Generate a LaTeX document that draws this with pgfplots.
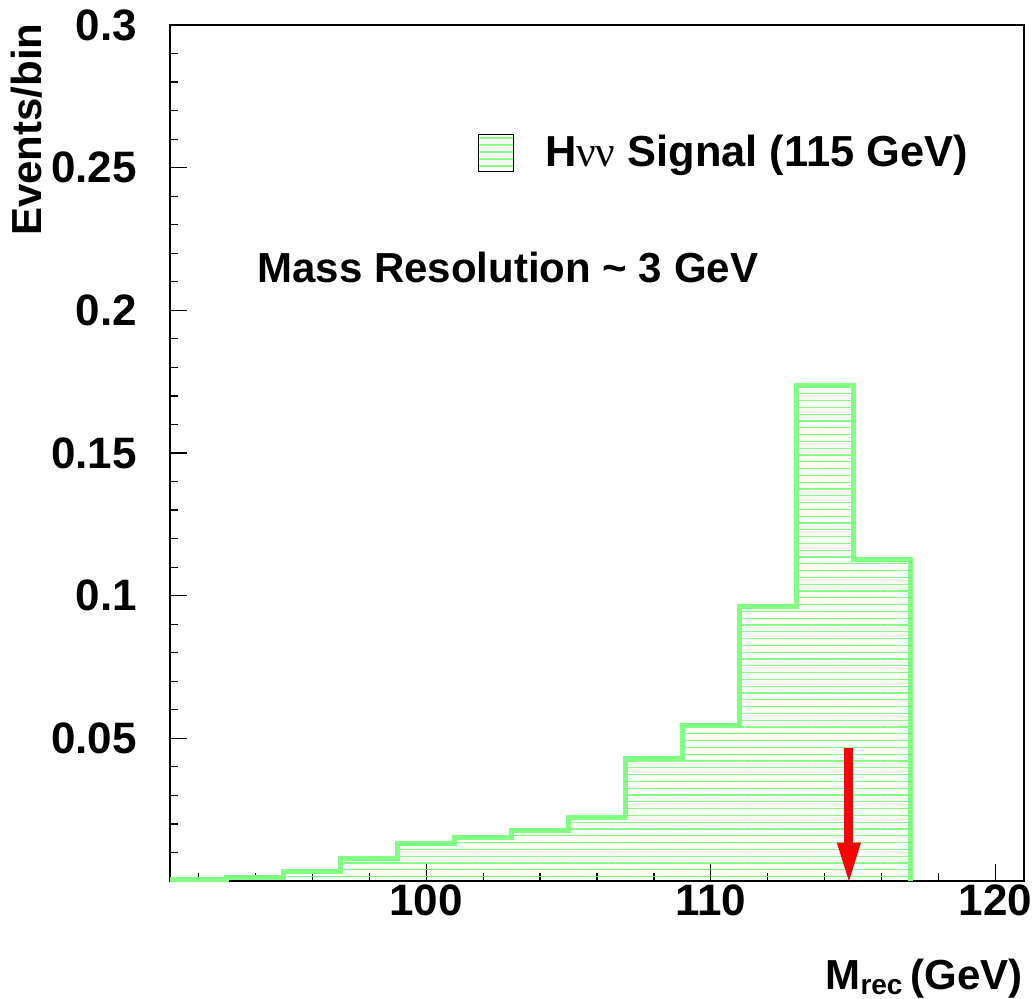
\documentclass[border=0pt]{standalone}
\usepackage{fontspec}
\setmainfont{Liberation Sans}
\newfontfamily\seriffont{Liberation Serif}
\usepackage{pgfplots}
\pgfplotsset{compat=1.18}
\usetikzlibrary{patterns.meta,arrows.meta}
\definecolor{hgreen}{RGB}{128,255,128}
\newcommand\bigfont{\fontsize{21}{25}\selectfont\bfseries}
\newcommand\tickfont{\fontsize{22}{26}\selectfont\bfseries}
\newcommand\legfont{\fontsize{21.7}{26}\selectfont\bfseries}
\begin{document}
\begin{tikzpicture}
\useasboundingbox (-85pt,-59pt) rectangle (432pt,440.5pt);
\begin{axis}[
  at={(0,0)}, anchor=south west,
  scale only axis, width=427pt, height=428pt,
  xmin=91, xmax=121, ymin=0, ymax=0.3,
  clip=false,
  axis background/.style={draw=black, line width=1.3pt},
  axis line style={line width=1.3pt},
  tick pos=left, tick align=inside,
  xtick={100,110,120},
  xticklabels={100,110,120},
  minor xtick={92,94,96,98,102,104,106,108,112,114,116,118},
  ytick={0.05,0.1,0.15,0.2,0.25,0.3},
  yticklabels={0.05,0.1,0.15,0.2,0.25,0.3},
  minor ytick={0.01,0.02,0.03,0.04,0.06,0.07,0.08,0.09,0.11,0.12,0.13,0.14,0.16,0.17,0.18,0.19,0.21,0.22,0.23,0.24,0.26,0.27,0.28,0.29},
  major tick length=8.5pt, minor tick length=4pt,
  every tick/.style={black, line width=0.6pt},
  /pgf/number format/assume math mode=true,
  tick label style={font=\tickfont},
  yticklabel style={xshift=-13pt},
  xticklabel style={yshift=1.5pt},
  ylabel={Events/bin},
  every axis y label/.style={at={(axis description cs:-0.1499,1.0023)}, anchor=base east, rotate=90, inner sep=0pt, font=\bigfont},
  xlabel={M\raisebox{-2.5pt}{\fontsize{14}{14}\selectfont rec}\hspace{4pt}(GeV)},
  every axis x label/.style={at={(axis description cs:0.9988,-0.1273)}, anchor=base east, inner sep=0pt, font=\bigfont},
  legend style={at={(axis description cs:0.3595,0.876)}, anchor=north west, draw=none, fill=none, inner sep=0pt, font=\legfont},
  legend cell align=left,
  legend image code/.code={\draw[draw=black, line width=0.5pt, pattern={Lines[angle=0,distance=3.5pt,line width=0.6pt]}, pattern color=hgreen] (0pt,-9.25pt) rectangle (17.5pt,9.25pt); \path (17.5pt,0pt) -- (31.5pt,0pt);},
]
\addplot[const plot, draw=none, pattern={Lines[angle=0,distance=3.4pt,line width=0.6pt]}, pattern color=hgreen]
  coordinates {(91,0.0005) (93,0.0013) (95,0.0032) (97,0.0078) (99,0.0131) (101,0.0152) (103,0.0176) (105,0.0223) (107,0.0428) (109,0.0544) (111,0.0961) (113,0.1736) (115,0.1125) (117,0.1125)} \closedcycle;
\addlegendentry{H{\seriffont\mdseries νν} Signal (115 GeV)}
\addplot[const plot, draw=hgreen, line width=2.5pt, forget plot]
  coordinates {(91,0.0005) (93,0.0013) (95,0.0032) (97,0.0078) (99,0.0131) (101,0.0152) (103,0.0176) (105,0.0223) (107,0.0428) (109,0.0544) (111,0.0961) (113,0.1736) (115,0.1125) (117,0.1125) (117,0)};
\addplot[red, line width=4.5pt, -{Triangle[length=21pt, width=10.5pt]}, forget plot]
  coordinates {(114.85,0.0466) (114.85,-0.0013)};
\node[anchor=base west, inner sep=0pt, font=\bigfont] at (axis description cs:0.1019,0.6986) {Mass Resolution \textasciitilde\ 3 GeV};
\end{axis}
\end{tikzpicture}
\end{document}
